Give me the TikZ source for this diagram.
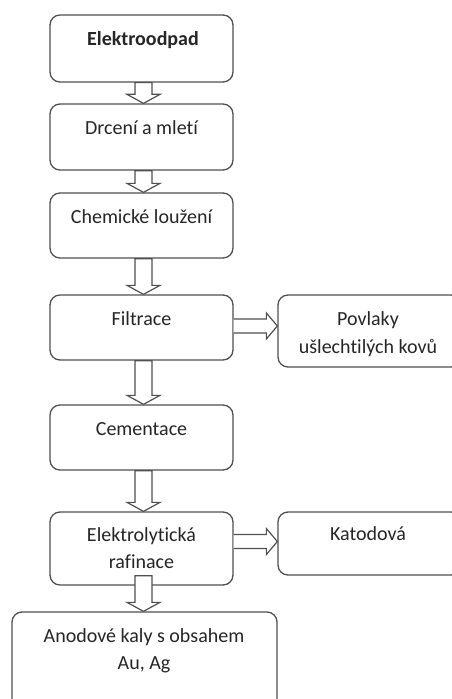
\documentclass[tikz,border=0pt]{standalone}
\usepackage{fontspec}
\setmainfont{Carlito}[Ligatures=NoCommon]
\usetikzlibrary{calc}
\definecolor{lin}{HTML}{505050}
\definecolor{txt}{HTML}{262626}
\tikzset{
  box/.style={draw=lin, line width=1.3bp, rounded corners=10bp, fill=white, inner sep=0pt},
  lbl/.style={anchor=base, inner sep=0pt, text=txt, font=\fontsize{20bp}{27.5bp}\selectfont},
  blk/.style={draw=lin, line width=1.2bp, fill=white, line join=miter}
}
\newcommand\DArrow[4]{%
  \draw[blk] let \p1=($(#1.south)+(#3,-#4)$), \p2=(#2.north) in
    (\x1-8.5bp,\y1) -- (\x1-8.5bp,\y2+9bp) -- (\x1-16.5bp,\y2+9bp) -- (\x1,\y2)
    -- (\x1+16.5bp,\y2+9bp) -- (\x1+8.5bp,\y2+9bp) -- (\x1+8.5bp,\y1) -- cycle;}
\newcommand\RArrow[3]{%
  \draw[blk] let \p1=($(#1.east)+(0,#3)$), \p2=(#2.west) in
    (\x1,\y1+7bp) -- (\x2-11bp,\y1+7bp) -- (\x2-11bp,\y1+13bp) -- (\x2,\y1)
    -- (\x2-11bp,\y1-13bp) -- (\x2-11bp,\y1-7bp) -- (\x1,\y1-7bp);}
\begin{document}
\begin{tikzpicture}[x=1bp,y=-1bp]
\useasboundingbox (0,0) rectangle (452,699);
\fill[white] (0,0) rectangle (452,699);
\clip (0,0) rectangle (452,699);
% boxes
\node[box, minimum width=183bp, minimum height=67bp] (b1) at (141.5,48.5) {};
\node[box, minimum width=183bp, minimum height=66bp] (b2) at (141.5,137) {};
\node[box, minimum width=183bp, minimum height=65bp] (b3) at (141.5,225.5) {};
\node[box, minimum width=183bp, minimum height=65bp] (b4) at (141.5,327.5) {};
\node[box, minimum width=183bp, minimum height=72bp] (p)  at (369.5,331) {};
\node[box, minimum width=183bp, minimum height=65bp] (b5) at (141.5,437.5) {};
\node[box, minimum width=183bp, minimum height=73bp] (b6) at (141.5,548.5) {};
\node[box, minimum width=183bp, minimum height=63bp] (k)  at (369.5,543.5) {};
\node[box, minimum width=265bp, minimum height=100bp] (b7) at (144.5,662) {};
% arrows
\DArrow{b1}{b2}{2}{0}
\DArrow{b2}{b3}{2}{0}
\DArrow{b3}{b4}{2}{0}
\DArrow{b4}{b5}{2}{0}
\DArrow{b5}{b6}{2}{0}
\DArrow{b6}{b7}{2}{10}
\RArrow{b4}{p}{-1.5}
\RArrow{b6}{k}{-7}
% texts
\node[lbl, font=\fontsize{20bp}{27.5bp}\selectfont\bfseries] (t1) at (143,46) {Elektroodpad};
\node[lbl] (t2) at (141.5,135) {Drcení a mletí};
\node[lbl] (t3) at (141.5,223) {Chemické loužení};
\node[lbl] (t4) at (141.5,325) {Filtrace};
\node[lbl] (t5a) at (368,325) {Povlaky};
\node[lbl] (t5b) at (368,353) {ušlechtilých kovů};
\node[lbl] (t6) at (141.5,435) {Cementace};
\node[lbl] (t7a) at (141.5,541) {Elektrolytická};
\node[lbl] (t7b) at (141.5,568) {rafinace};
\node[lbl] (t8) at (368,540) {Katodová};
\node[lbl] (t9a) at (144,642) {Anodové kaly s obsahem};
\node[lbl] (t9b) at (144,669) {Au, Ag};
\end{tikzpicture}
\end{document}
